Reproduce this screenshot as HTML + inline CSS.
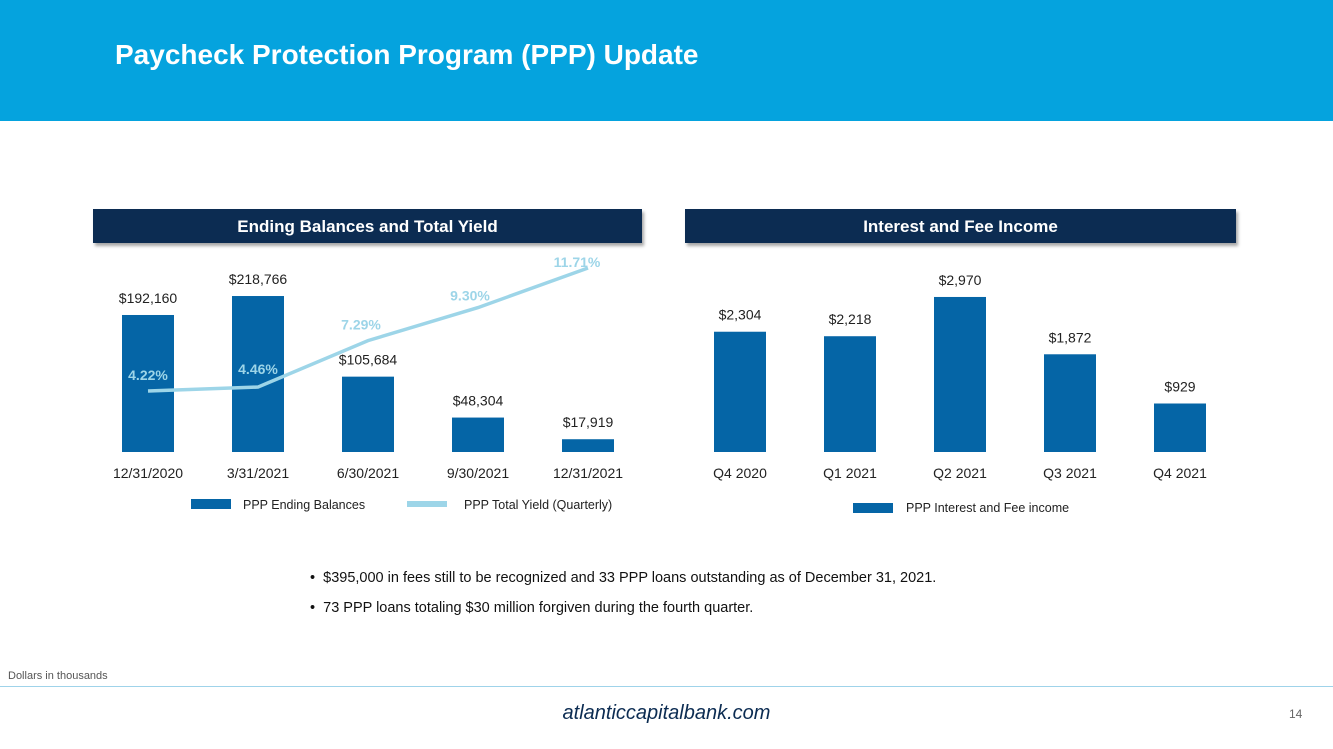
<!DOCTYPE html>
<html><head><meta charset="utf-8"><style>
body{margin:0;width:1333px;height:749px;position:relative;background:#fff;font-family:"Liberation Sans",sans-serif;overflow:hidden}
.abs{position:absolute}
.hdr{left:0;top:0;width:1333px;height:121px;background:#05a3de}
.title{left:115px;top:39px;color:#fff;font-size:28px;font-weight:bold}
.ph{height:34px;background:#0c2c52;color:#fff;font-weight:bold;font-size:17px;text-align:center;line-height:36px;box-shadow:2px 3px 3px rgba(0,0,0,.35)}
.bul{left:310px;font-size:14.5px;color:#111}
</style></head><body>
<div class="abs hdr"></div>
<div class="abs title">Paycheck Protection Program (PPP) Update</div>
<div class="abs ph" style="left:93px;top:209px;width:549px">Ending Balances and Total Yield</div>
<div class="abs ph" style="left:685px;top:209px;width:551px">Interest and Fee Income</div>
<svg class="abs" style="left:0;top:0" width="1333" height="749" id="chart"></svg>
<div class="abs bul" style="top:570px">•&nbsp; $395,000 in fees still to be recognized and 33 PPP loans outstanding as of December 31, 2021.</div>
<div class="abs bul" style="top:600px">•&nbsp; 73 PPP loans totaling $30 million forgiven during the fourth quarter.</div>
<div class="abs" style="left:8px;top:670px;font-size:11px;color:#555">Dollars in thousands</div>
<div class="abs" style="left:0;top:686px;width:1333px;height:1px;background:#9fd3ea"></div>
<div class="abs" style="left:0;top:702px;width:1333px;text-align:center;font-size:20px;font-style:italic;color:#0c2c52">atlanticcapitalbank.com</div>
<div class="abs" style="left:1289px;top:707px;font-size:12px;color:#666">14</div>
<script>
const dates=["12/31/2020","3/31/2021","6/30/2021","9/30/2021","12/31/2021"];
const balances=[192160,218766,105684,48304,17919];
const yields=[4.22,4.46,7.29,9.30,11.71];
const quarters=["Q4 2020","Q1 2021","Q2 2021","Q3 2021","Q4 2021"];
const income=[2304,2218,2970,1872,929];
const svg=document.getElementById('chart');const NS='http://www.w3.org/2000/svg';
function mk(t,a,txt){const e=document.createElementNS(NS,t);for(const k in a)e.setAttribute(k,a[k]);if(txt!=null)e.textContent=txt;svg.appendChild(e);return e;}
const base=452,dark='#0565a6',light='#9dd5e8';
const xL=i=>148+i*110, yB=v=>base-v*0.000713, yY=v=>391-(v-4.22)*16.42;
const xR=i=>740+i*110, yR=v=>base-v*0.0522;
const ldx=[0,0,-7,-8,-11], ldy=[-11,-13,-11,-7,-1];
balances.forEach((v,i)=>{
 const r=mk('rect',{x:xL(i)-26,y:yB(v),width:52,height:base-yB(v),fill:dark});
 
 const t=mk('text',{x:xL(i),y:yB(v)-12,'text-anchor':'middle','font-size':14,fill:'#222'},'$'+v.toLocaleString('en-US'));
 
 const c=mk('text',{x:xL(i),y:478,'text-anchor':'middle','font-size':14,fill:'#222'},dates[i]);
 
});
const ln=mk('polyline',{points:yields.map((v,i)=>xL(i)+','+yY(v)).join(' '),fill:'none',stroke:light,'stroke-width':3.5});

yields.forEach((v,i)=>{
 const t=mk('text',{x:xL(i)+ldx[i],y:yY(v)+ldy[i],'text-anchor':'middle','font-size':14,'font-weight':'bold',fill:light},v.toFixed(2)+'%');
 
});
income.forEach((v,i)=>{
 const r=mk('rect',{x:xR(i)-26,y:yR(v),width:52,height:base-yR(v),fill:dark});
 
 const t=mk('text',{x:xR(i),y:yR(v)-12,'text-anchor':'middle','font-size':14,fill:'#222'},'$'+v.toLocaleString('en-US'));
 
 const c=mk('text',{x:xR(i),y:478,'text-anchor':'middle','font-size':14,fill:'#222'},quarters[i]);
 
});
let e;
e=mk('rect',{x:191,y:499,width:40,height:10,fill:dark});
e=mk('text',{x:243,y:509,'font-size':12.5,fill:'#222'},'PPP Ending Balances');
e=mk('rect',{x:407,y:501,width:40,height:6,fill:light});
e=mk('text',{x:464,y:509,'font-size':12.5,fill:'#222'},'PPP Total Yield (Quarterly)');
e=mk('rect',{x:853,y:503,width:40,height:10,fill:dark});
e=mk('text',{x:906,y:512,'font-size':12.5,fill:'#222'},'PPP Interest and Fee income');
</script>
</body></html>
